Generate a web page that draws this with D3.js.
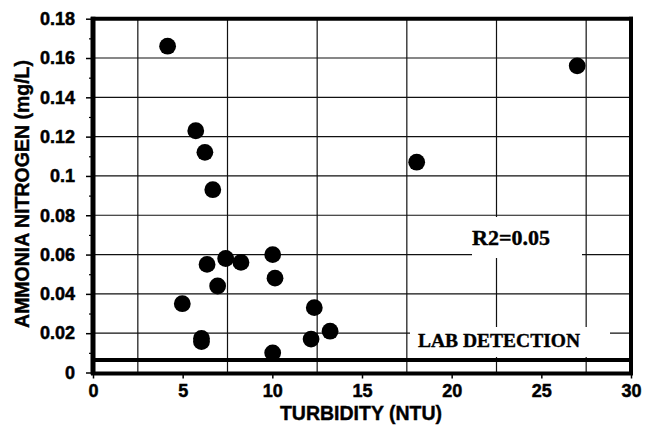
<!DOCTYPE html>
<html><head><meta charset="utf-8">
<script src="https://cdn.jsdelivr.net/npm/d3@7"></script>
<style>body{margin:0;background:#fff}svg{display:block}</style>
</head><body>
<script>
const turbidity = [4.16, 5.73, 6.24, 6.68, 27.0, 18.05, 10.02, 10.15, 7.40, 8.25, 6.36, 4.98, 6.95, 6.05, 6.05, 12.34, 13.22, 12.16, 10.02];
const ammonia   = [0.166, 0.123, 0.112, 0.093, 0.156, 0.107, 0.060, 0.048, 0.058, 0.056, 0.055, 0.035, 0.044, 0.0173, 0.0157, 0.033, 0.021, 0.017, 0.010];
const xTicks = [0, 5, 10, 15, 20, 25, 30];
const yTicks = [0, 0.02, 0.04, 0.06, 0.08, 0.1, 0.12, 0.14, 0.16, 0.18];
const xGrid = [2.5, 7.5, 12.5, 17.5, 22.5, 27.5];
const yGrid = [0.02, 0.04, 0.06, 0.08, 0.1, 0.12, 0.14, 0.16];
const yMinor = [0.01, 0.03, 0.05, 0.07, 0.09, 0.11, 0.13, 0.15, 0.17];
const labDetection = 0.0064;
const r2Text = "R2=0.05";
const labText = "LAB DETECTION";
const xTitle = "TURBIDITY (NTU)";
const yTitle = "AMMONIA NITROGEN (mg/L)";

const W = 651, H = 428;
const svg = d3.select("body").append("svg").attr("width", W).attr("height", H);
const x = d3.scaleLinear().domain([0, 30]).range([93, 631]);
const y = d3.scaleLinear().domain([0, 0.18]).range([372.5, 18.7]);
const sans = "'Liberation Sans', Arial, sans-serif";
const serif = "'Liberation Serif', 'Times New Roman', serif";

// grid
svg.append("g").selectAll("line").data(xGrid).join("line")
  .attr("x1", d => x(d)).attr("x2", d => x(d)).attr("y1", y(0.18)).attr("y2", y(0))
  .attr("stroke", "#111").attr("stroke-width", 1.2);
svg.append("g").selectAll("line").data(yGrid).join("line")
  .attr("x1", x(0)).attr("x2", x(30)).attr("y1", d => y(d)).attr("y2", d => y(d))
  .attr("stroke", "#111").attr("stroke-width", 1.2);

// annotation boxes (white)
svg.append("rect").attr("x", 472).attr("y", 217).attr("width", 110).attr("height", 41).attr("fill", "#fff");
svg.append("rect").attr("x", 410).attr("y", 327).attr("width", 200).attr("height", 30).attr("fill", "#fff");
svg.append("text").attr("x", 472).attr("y", 245).attr("font-family", serif).attr("font-weight", "bold")
  .attr("font-size", 22).attr("fill", "#000").attr("stroke", "#000").attr("stroke-width", 0.4).text(r2Text);
svg.append("text").attr("x", 418).attr("y", 347).attr("font-family", serif).attr("font-weight", "bold")
  .attr("font-size", 19.5).attr("fill", "#000").attr("stroke", "#000").attr("stroke-width", 0.4).text(labText);

// lab detection line
svg.append("line").attr("x1", x(0)).attr("x2", x(30)).attr("y1", y(labDetection)).attr("y2", y(labDetection))
  .attr("stroke", "#000").attr("stroke-width", 4);

// axes with d3
const xAxis = d3.axisBottom(x).tickValues(xTicks).tickSize(6).tickFormat(d3.format("d"));
const gx = svg.append("g").attr("transform", `translate(0,${y(0)})`).call(xAxis);
gx.select(".domain").remove();
gx.selectAll("line").attr("stroke", "#000").attr("stroke-width", 1.5);
gx.selectAll("text").attr("font-family", sans).attr("font-weight", "bold").attr("font-size", 18)
  .attr("fill", "#000").attr("stroke", "#000").attr("stroke-width", 0.5).attr("y", 12).attr("dy", "0.71em");

const yAxis = d3.axisLeft(y).tickValues(yTicks).tickSize(7).tickFormat(d => d === 0 ? "0" : String(+d.toFixed(2)));
const gy = svg.append("g").attr("transform", `translate(${x(0)},0)`).call(yAxis);
gy.select(".domain").remove();
gy.selectAll("line").attr("stroke", "#000").attr("stroke-width", 1.5);
gy.selectAll("text").attr("font-family", sans).attr("font-weight", "bold").attr("font-size", 18)
  .attr("fill", "#000").attr("stroke", "#000").attr("stroke-width", 0.5).attr("x", -18);

const yAxisMinor = d3.axisLeft(y).tickValues(yMinor).tickSize(4).tickFormat("");
const gym = svg.append("g").attr("transform", `translate(${x(0)},0)`).call(yAxisMinor);
gym.select(".domain").remove();
gym.selectAll("line").attr("stroke", "#000").attr("stroke-width", 1.2);

// frame
svg.append("line").attr("x1", x(0)).attr("x2", x(0)).attr("y1", y(0.18) - 2).attr("y2", y(0) + 2)
  .attr("stroke", "#000").attr("stroke-width", 5);
svg.append("line").attr("x1", x(0) - 2).attr("x2", x(30) + 2).attr("y1", y(0.18)).attr("y2", y(0.18))
  .attr("stroke", "#000").attr("stroke-width", 4);
svg.append("line").attr("x1", x(30)).attr("x2", x(30)).attr("y1", y(0.18) - 2).attr("y2", y(0) + 2)
  .attr("stroke", "#000").attr("stroke-width", 4);
svg.append("line").attr("x1", x(0) - 2).attr("x2", x(30) + 2).attr("y1", y(0) + 1).attr("y2", y(0) + 1)
  .attr("stroke", "#000").attr("stroke-width", 4);

// points
svg.append("g").selectAll("circle").data(turbidity.map((t, i) => [t, ammonia[i]])).join("circle")
  .attr("cx", d => x(d[0])).attr("cy", d => y(d[1])).attr("r", 8.4).attr("fill", "#000");

// titles
svg.append("text").attr("x", 361).attr("y", 420).attr("text-anchor", "middle")
  .attr("font-family", sans).attr("font-weight", "bold").attr("font-size", 19.5).attr("fill", "#000")
  .attr("stroke", "#000").attr("stroke-width", 0.4).text(xTitle);
svg.append("text").attr("transform", "translate(29,194) rotate(-90)").attr("text-anchor", "middle")
  .attr("font-family", sans).attr("font-weight", "bold").attr("font-size", 19.5).attr("fill", "#000")
  .attr("stroke", "#000").attr("stroke-width", 0.4).text(yTitle);
</script>
</body></html>
